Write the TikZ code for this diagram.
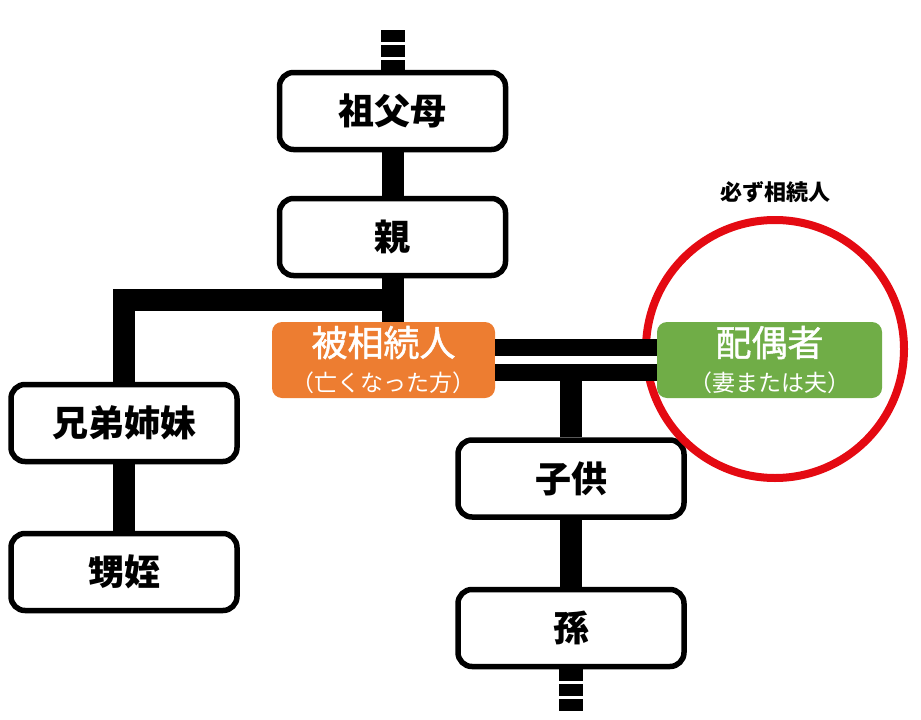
\documentclass[tikz,border=0pt]{standalone}
\usepackage{fontspec}
\setmainfont{Noto Sans CJK JP}
\newfontfamily\midfont{Noto Sans CJK JP}[FakeBold=1.2]
\usepackage{tikz}
\usetikzlibrary{positioning}
\definecolor{korange} {RGB}{237,125,49}
\definecolor{sgreen}  {RGB}{112,173,71}
\definecolor{mred}    {RGB}{228,10,18}
\tikzset{
    person/.style={draw=black, line width=5.5pt, fill=white, rounded corners=14pt,
             minimum width=226pt, minimum height=77pt, inner sep=0pt,
             font=\fontsize{36}{40}\selectfont\bfseries},
    dead/.style={fill=korange, text=white, rounded corners=10pt, align=center,
             minimum width=223pt, minimum height=76pt, inner sep=0pt},
    partner/.style={dead, fill=sgreen, minimum width=225pt},
    bar/.style={draw=black, line width=22pt, line join=miter},
    dashbar/.style={draw=black, line width=24pt, dash pattern=on 12pt off 3pt},
    marriage/.style={draw=black, line width=17pt, double=white, double distance=8pt},
    mustring/.style={circle, draw=mred, line width=8pt, minimum size=258pt, inner sep=0pt}
  }
\newcommand{\bigtxt}{\midfont\fontsize{36}{40}\selectfont}
\newcommand{\smalltxt}{\fontsize{23}{26}\selectfont}

\begin{document}
\begin{tikzpicture}[x=1pt, y=-1pt]
 \useasboundingbox (0,0) rectangle (921,720);
 %Ancestors
     \node[person] (gp) at (392.5,111) {祖父母};
     \node[person] (parent) at (392.5,237) {親};
 %Siblings side
     \node[person] (sib) at (124,423) {兄弟姉妹};
     \node[person] (nephew) at (124,572) {甥姪};
 %Deceased and spouse
     \node[dead] (deceased) at (383.5,360) {\bigtxt 被相続人\\[12pt]\smalltxt （亡くなった方）};
     \node[partner] (spouse) at (769.5,360) {\bigtxt 配偶者\\[12pt]\smalltxt （妻または夫）};
 %Descendants
     \node[person] (child) at (571,478.5) {子供};
     \node[person] (grandchild) at (571,628) {孫};
 %Ring round the spouse
     \node[mustring] (ring) at (775,349) {};
     \node[above=13pt of ring, inner sep=0pt, font=\fontsize{22}{24}\selectfont\bfseries] (must) {必ず相続人};
 %Free ends
     \coordinate (topend) at (392.5,30);
     \coordinate (botend) at (571,712);
     \coordinate (sibfork) at (392.5,300);
     \coordinate (couple) at (571,365);
 %Lines
     \draw[dashbar] (topend) -- (gp.north);
     \draw[bar] (gp.south) -- (parent.north);
     \draw[bar] (parent.south) -- (parent.south |- deceased.north);
     \draw[bar] (sibfork) -| (sib.north);
     \draw[bar] (sib.south) -- (nephew.north);
     \draw[marriage] (deceased.east) -- (spouse.west);
     \draw[bar] (couple) -- (child.north);
     \draw[bar] (child.south) -- (grandchild.north);
     \draw[dashbar] (grandchild.south) -- (botend);
\end{tikzpicture}
\end{document}
